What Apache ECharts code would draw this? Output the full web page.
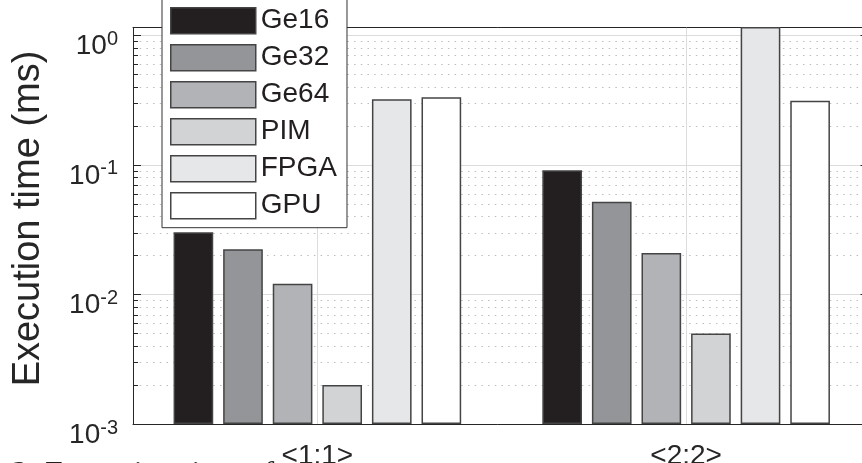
<!DOCTYPE html>
<html>
<head>
<meta charset="utf-8">
<script src="https://cdn.jsdelivr.net/npm/echarts@6/dist/echarts.min.js"></script>
<style>
  html, body { margin: 0; padding: 0; background: #fff; }
  #chart { width: 862px; height: 463px; }
</style>
</head>
<body>
<div id="chart"></div>
<script>
// Execution time per configuration, in ms (log scale)
const categories = ['<1:1>', '<2:2>'];
const seriesNames = ['Ge16', 'Ge32', 'Ge64', 'PIM', 'FPGA', 'GPU'];
const ge16 = [0.0302, 0.0908];
const ge32 = [0.0223, 0.0520];
const ge64 = [0.0121, 0.0209];
const pim  = [0.0020, 0.0050];
const fpga = [0.321, 1.3];
const gpu  = [0.332, 0.313];

// Axis ticks (decades labelled, in-between values as dotted minor grid)
const yMin = 0.001;
const yMax = 1.145;
const minorTicks = [
  0.002, 0.003, 0.004, 0.005, 0.006, 0.007, 0.008, 0.009,
  0.02, 0.03, 0.04, 0.05, 0.06, 0.07, 0.08, 0.09,
  0.2, 0.3, 0.4, 0.5, 0.6, 0.7, 0.8, 0.9
];

const fills = ['#231f20', '#939598', '#b1b3b6', '#d1d3d4', '#e6e7e8', '#ffffff'];
const values = [ge16, ge32, ge64, pim, fpga, gpu];

const ink = '#262626';
const sans = '"Liberation Sans", Arial, sans-serif';

const chart = echarts.init(document.getElementById('chart'), null, { renderer: 'canvas' });

const barSeries = seriesNames.map((name, i) => ({
  name: name,
  type: 'bar',
  xAxisIndex: 0,
  yAxisIndex: 0,
  data: values[i],
  clip: true,
  z: 3,
  barGap: '25%',
  barCategoryGap: '22%',
  itemStyle: { color: fills[i], borderColor: '#444', borderWidth: 1.5 },
  emphasis: { disabled: true }
}));

// dotted minor grid lines plus short inward minor ticks on both y axes
const minorGridSeries = {
  type: 'custom',
  name: 'minor-grid',
  coordinateSystem: 'cartesian2d',
  xAxisIndex: 0,
  yAxisIndex: 0,
  silent: true,
  z: 1,
  clip: true,
  data: minorTicks.map(v => [0, v]),
  renderItem: function (params, api) {
    const cs = params.coordSys;
    const y = Math.round(api.coord([0, api.value(1)])[1]) + 0.5;
    return {
      type: 'group',
      children: [
        {
          type: 'line',
          shape: { x1: cs.x, y1: y, x2: cs.x + cs.width, y2: y },
          style: { stroke: '#bdbdbd', lineWidth: 1, lineDash: [1.5, 5.2] }
        },
        {
          type: 'line',
          shape: { x1: cs.x, y1: y, x2: cs.x + 5, y2: y },
          style: { stroke: ink, lineWidth: 1 }
        },
        {
          type: 'line',
          shape: { x1: cs.x + cs.width - 5, y1: y, x2: cs.x + cs.width, y2: y },
          style: { stroke: ink, lineWidth: 1 }
        }
      ]
    };
  }
};

// solid vertical grid lines through each category centre
const catGridSeries = {
  type: 'custom',
  name: 'category-grid',
  coordinateSystem: 'cartesian2d',
  xAxisIndex: 0,
  yAxisIndex: 0,
  silent: true,
  z: 1,
  data: categories.map((c, i) => [i, yMin]),
  renderItem: function (params, api) {
    const cs = params.coordSys;
    const x = Math.round(api.coord([api.value(0), yMin])[0]) + 0.5;
    return {
      type: 'line',
      shape: { x1: x, y1: cs.y, x2: x, y2: cs.y + cs.height },
      style: { stroke: '#dcdcdc', lineWidth: 1 }
    };
  }
};

function decadeLabel(value) {
  const e = Math.log10(value);
  const r = Math.round(e);
  if (Math.abs(e - r) > 1e-6) return '';
  return '{b|10}{s|' + r + '}';
}

const option = {
  animation: false,
  backgroundColor: '#ffffff',
  grid: {
    left: 133, right: -8.5, top: 27.7, bottom: 39,
    containLabel: false,
    outerBoundsMode: 'none'
  },
  legend: {
    data: seriesNames,
    orient: 'vertical',
    left: 162,
    top: -1.3,
    padding: [8, 10, 8, 8],
    itemWidth: 85,
    itemHeight: 26,
    itemGap: 9,
    icon: 'rect',
    backgroundColor: '#ffffff',
    borderColor: '#333333',
    borderWidth: 1,
    borderRadius: 0,
    selectedMode: false,
    itemStyle: { borderColor: '#444', borderWidth: 1.5 },
    textStyle: { fontFamily: sans, fontSize: 28, color: '#231f20', lineHeight: 26 },
    z: 10
  },
  xAxis: [
    {
      type: 'category',
      data: categories,
      position: 'bottom',
      boundaryGap: true,
      axisLine: { show: true, lineStyle: { color: ink, width: 1 } },
      axisTick: { show: true, inside: true, alignWithLabel: true, length: 7, lineStyle: { color: ink } },
      axisLabel: { fontFamily: sans, fontSize: 28, color: ink, margin: 18 },
      splitLine: { show: false }
    },
    {
      type: 'category',
      data: categories,
      position: 'top',
      boundaryGap: true,
      axisLine: { show: true, lineStyle: { color: ink, width: 1 } },
      axisTick: { show: true, inside: true, alignWithLabel: true, length: 7, lineStyle: { color: ink } },
      axisLabel: { show: false },
      splitLine: { show: false }
    }
  ],
  yAxis: [
    {
      type: 'log',
      logBase: 10,
      min: yMin,
      max: yMax,
      startValue: yMin,
      position: 'left',
      axisLine: { show: true, lineStyle: { color: ink, width: 1 } },
      axisTick: { show: true, inside: true, length: 8, lineStyle: { color: ink } },
      axisLabel: {
        margin: 15,
        color: ink,
        formatter: decadeLabel,
        rich: {
          b: { fontFamily: sans, fontSize: 28, color: ink, padding: [22, 0, 0, 0] },
          s: { fontFamily: sans, fontSize: 20, color: ink, padding: [8, 0, 0, 0] }
        }
      },
      splitLine: { show: true, lineStyle: { color: '#dcdcdc', width: 1 } }
    },
    {
      type: 'log',
      logBase: 10,
      min: yMin,
      max: yMax,
      startValue: yMin,
      position: 'right',
      axisLine: { show: true, lineStyle: { color: ink, width: 1 } },
      axisTick: { show: true, inside: true, length: 10, lineStyle: { color: ink } },
      axisLabel: { show: false },
      splitLine: { show: false }
    }
  ],
  graphic: [
    {
      type: 'text',
      x: 29,
      y: 218.5,
      rotation: Math.PI / 2,
      style: {
        text: 'Execution time (ms)',
        font: '38px ' + sans,
        fill: ink,
        align: 'center',
        verticalAlign: 'middle',
        textAlign: 'center',
        textVerticalAlign: 'middle'
      }
    },
    {
      type: 'text',
      x: 12,
      y: 458.5,
      style: {
        text: '2: Execution time of',
        font: '32px "Liberation Serif", "Times New Roman", serif',
        fill: '#231f20',
        align: 'left',
        verticalAlign: 'top',
        textAlign: 'left',
        textVerticalAlign: 'top'
      }
    }
  ],
  series: [minorGridSeries, catGridSeries].concat(barSeries)
};

chart.setOption(option);
</script>
</body>
</html>
